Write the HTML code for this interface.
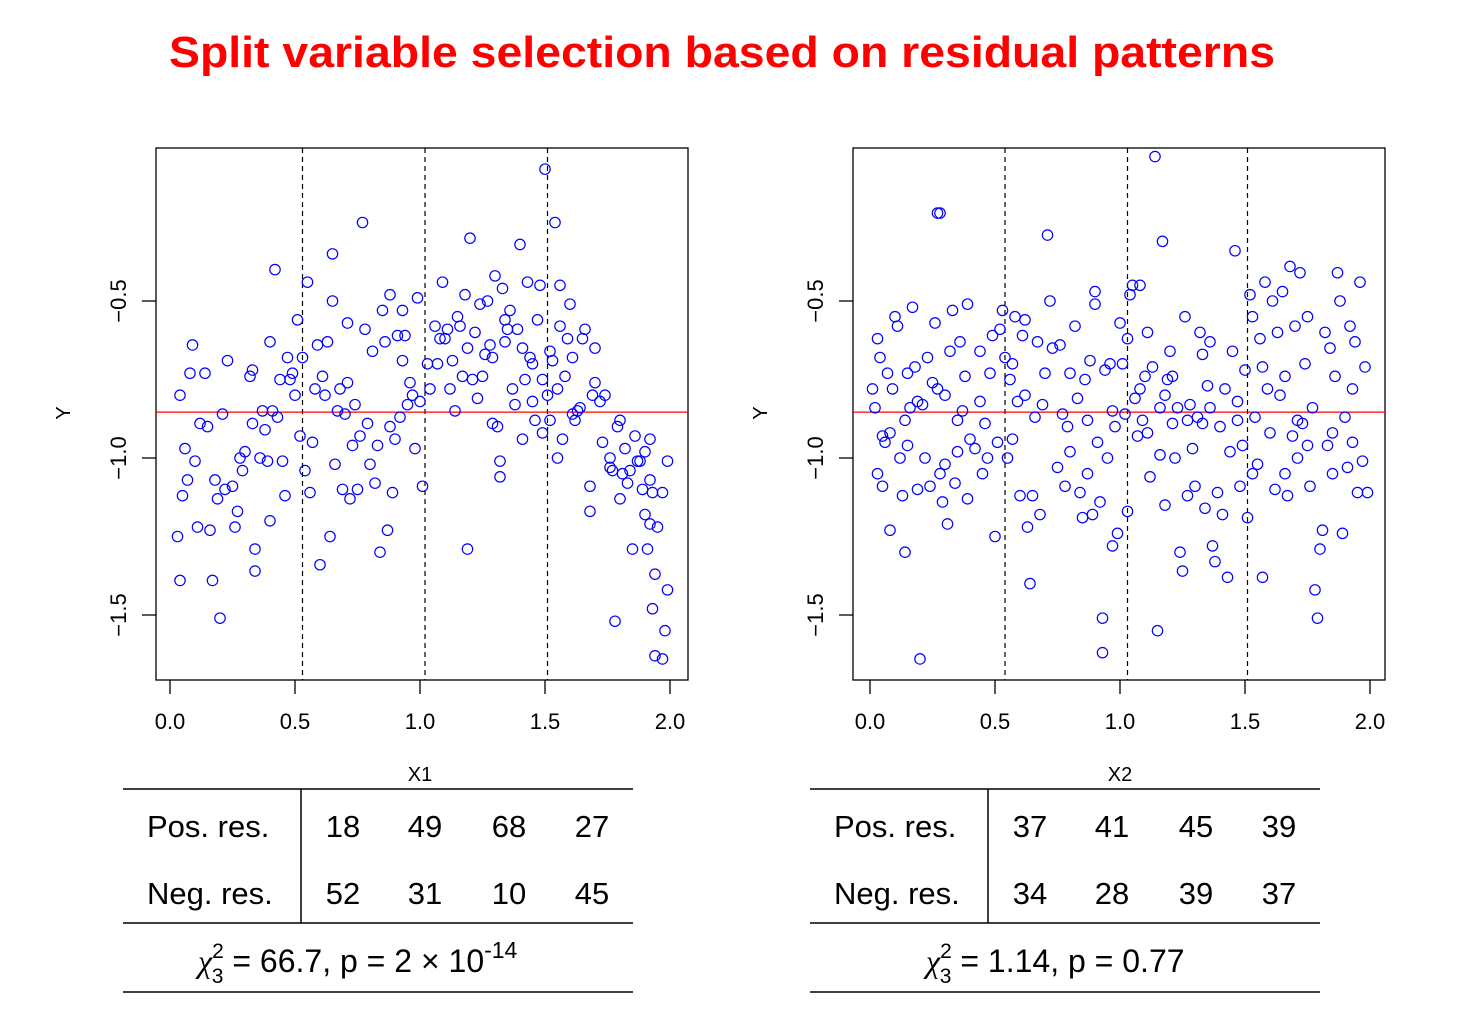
<!DOCTYPE html>
<html><head><meta charset="utf-8">
<style>
html,body{margin:0;padding:0;background:#fff;}
svg{display:block;font-family:"Liberation Sans",Arial,sans-serif;}
</style></head>
<body>
<svg id="chart" width="1474" height="1014" viewBox="0 0 1474 1014" xmlns="http://www.w3.org/2000/svg">
<text x="722" y="67" text-anchor="middle" font-size="44" font-weight="bold" fill="#ff0000" textLength="1106" lengthAdjust="spacingAndGlyphs">Split variable selection based on residual patterns</text>
<g id="p1"></g>
<g id="p2"></g>

<g font-size="31" fill="#000">
<line x1="123" y1="789" x2="633" y2="789" stroke="#000" stroke-width="1.5"/>
<line x1="123" y1="923" x2="633" y2="923" stroke="#000" stroke-width="1.5"/>
<line x1="123" y1="992" x2="633" y2="992" stroke="#000" stroke-width="1.5"/>
<line x1="301" y1="789" x2="301" y2="923" stroke="#000" stroke-width="1.5"/>
<text x="147" y="837">Pos. res.</text>
<text x="147" y="904">Neg. res.</text>
<g text-anchor="middle">
<text x="343" y="837">18</text><text x="425" y="837">49</text><text x="509" y="837">68</text><text x="592" y="837">27</text>
<text x="343" y="904">52</text><text x="425" y="904">31</text><text x="509" y="904">10</text><text x="592" y="904">45</text>
</g>
<text x="198" y="972" font-size="32"><tspan font-family="Liberation Serif,serif" font-style="italic">χ</tspan><tspan font-size="21" dy="-14">2</tspan><tspan font-size="21" dx="-12" dy="25">3</tspan><tspan dy="-11"> = 66.7, p = 2 × 10</tspan><tspan font-size="23" dy="-14">-14</tspan></text>
</g>

<g font-size="31" fill="#000">
<line x1="810" y1="789" x2="1320" y2="789" stroke="#000" stroke-width="1.5"/>
<line x1="810" y1="923" x2="1320" y2="923" stroke="#000" stroke-width="1.5"/>
<line x1="810" y1="992" x2="1320" y2="992" stroke="#000" stroke-width="1.5"/>
<line x1="988" y1="789" x2="988" y2="923" stroke="#000" stroke-width="1.5"/>
<text x="834" y="837">Pos. res.</text>
<text x="834" y="904">Neg. res.</text>
<g text-anchor="middle">
<text x="1030" y="837">37</text><text x="1112" y="837">41</text><text x="1196" y="837">45</text><text x="1279" y="837">39</text>
<text x="1030" y="904">34</text><text x="1112" y="904">28</text><text x="1196" y="904">39</text><text x="1279" y="904">37</text>
</g>
<text x="926" y="972" font-size="32"><tspan font-family="Liberation Serif,serif" font-style="italic">χ</tspan><tspan font-size="21" dy="-14">2</tspan><tspan font-size="21" dx="-12" dy="25">3</tspan><tspan dy="-11"> = 1.14, p = 0.77</tspan></text>
</g>
</svg>
<script>
const xTicks=[0,0.5,1.0,1.5,2.0];
const xTickLabels=["0.0","0.5","1.0","1.5","2.0"];
const yTicks=[-0.5,-1.0,-1.5];
const yTickLabels=["\u22120.5","\u22121.0","\u22121.5"];
const splits1=[0.53,1.02,1.51];
const splits2=[0.54,1.03,1.51];
const meanY=-0.854;
const x1Vals=[.03,.04,.04,.05,.07,.08,.09,.10,.11,.15,.14,.16,.17,.18,.20,.22,.23,.25,.26,.27,.29,.32,.33,.34,.34,.37,.39,.40,.40,.41,.42,.44,.45,.46,.47,.49,.51,.52,.54,.55,.56,.58,.59,.60,.62,.64,.65,.65,.66,.67,.69,.71,.71,.73,.74,.75,.77,.78,.80,.82,.84,.85,.87,.88,.89,.90,.91,.93,.93,.94,.95,.98,.99,1.01,1.04,1.06,1.08,1.09,1.11,1.13,1.14,1.16,1.18,1.19,1.20,1.21,1.24,1.26,1.28,1.29,1.30,1.32,1.32,1.34,1.35,1.37,1.39,1.40,1.41,1.42,1.43,1.45,1.45,1.46,1.48,1.49,1.50,1.52,1.52,1.54,1.55,1.56,1.56,1.58,1.60,1.61,1.63,1.65,1.66,1.68,1.68,1.70,1.72,1.74,1.76,1.77,1.78,1.80,1.80,1.82,1.83,1.84,1.85,1.87,1.88,1.90,1.91,1.92,1.92,1.92,1.93,1.93,1.94,1.94,1.97,1.98,1.99,1.99,
.30,.36,.48,.57,.63,.68,.76,.79,.86,.92,.97,1.03,1.07,1.12,1.15,1.17,1.22,1.25,1.27,1.31,1.33,1.36,1.38,1.44,1.47,1.51,1.53,1.57,1.59,1.62,1.64,1.69,1.73,1.79,1.86,1.89,1.95,.06,.12,.19,.21,.28,.33,.38,.43,.50,.53,.61,.70,.72,.81,.83,.88,.96,1.00,1.10,1.19,1.23,1.29,1.34,1.41,1.49,1.55,1.61,1.70,1.76,1.81,1.90,1.97];
const y1Vals=[-1.25,-1.39,-.80,-1.12,-1.07,-.73,-.64,-1.01,-1.22,-.90,-.73,-1.23,-1.39,-1.07,-1.51,-1.10,-.69,-1.09,-1.22,-1.17,-1.04,-.74,-.89,-1.29,-1.36,-.85,-1.01,-1.20,-.63,-.85,-.40,-.75,-1.01,-1.12,-.68,-.73,-.56,-.93,-1.04,-.44,-1.11,-.78,-.64,-1.34,-.80,-1.25,-.35,-.50,-1.02,-.85,-1.10,-.76,-.57,-.96,-.83,-1.10,-.25,-.59,-1.02,-1.08,-1.30,-.53,-1.23,-.48,-1.11,-.94,-.61,-.69,-.53,-.61,-.83,-.97,-.49,-1.09,-.78,-.58,-.62,-.44,-.59,-.69,-.85,-.58,-.48,-1.29,-.30,-.75,-.51,-.67,-.64,-.89,-.42,-1.06,-1.01,-.56,-.59,-.78,-.59,-.32,-.94,-.75,-.44,-.82,-.70,-.88,-.45,-.75,-.08,-.88,-.66,-.25,-1.00,-.45,-.58,-.74,-.51,-.68,-.85,-.62,-.59,-1.09,-1.17,-.65,-.82,-.80,-1.03,-1.04,-1.52,-.88,-1.13,-.97,-1.08,-1.04,-1.29,-1.01,-1.01,-1.18,-1.29,-1.07,-1.21,-.94,-1.48,-1.11,-1.37,-1.63,-1.64,-1.55,-1.42,-1.01,
-.98,-1.0,-.75,-.95,-.63,-.78,-.93,-.89,-.63,-.87,-.80,-.70,-.70,-.78,-.55,-.74,-.60,-.74,-.50,-.90,-.46,-.53,-.83,-.68,-.56,-.80,-.69,-.94,-.62,-.88,-.84,-.80,-.95,-.90,-.93,-1.10,-1.22,-.97,-.89,-1.13,-.86,-1.00,-.72,-.91,-.87,-.80,-.68,-.74,-.86,-1.13,-.66,-.96,-.90,-.76,-.82,-.62,-.65,-.81,-.68,-.63,-.65,-.92,-.78,-.86,-.76,-1.00,-1.05,-.98,-1.11];
const x2Vals=[.01,.02,.03,.03,.04,.05,.05,.06,.07,.08,.09,.10,.11,.12,.13,.14,.14,.15,.16,.17,.18,.19,.19,.20,.21,.22,.23,.24,.26,.27,.27,.28,.28,.29,.30,.30,.31,.32,.33,.34,.35,.36,.37,.38,.39,.39,.40,.42,.44,.45,.47,.48,.49,.50,.51,.52,.53,.54,.55,.56,.57,.58,.59,.60,.61,.62,.63,.64,.65,.66,.67,.69,.70,.71,.72,.73,.75,.76,.78,.79,.80,.82,.83,.84,.85,.86,.87,.88,.89,.90,.90,.91,.92,.93,.93,.94,.95,.96,.97,.98,.99,1.00,1.01,1.02,1.03,1.04,1.05,1.06,1.07,1.08,1.08,1.09,1.10,1.11,1.12,1.13,1.14,1.15,1.16,1.17,1.18,1.18,1.19,1.20,1.21,1.22,1.23,1.24,1.25,1.26,1.27,1.28,1.29,1.30,1.31,1.32,1.33,1.34,1.35,1.36,1.37,1.38,1.39,1.40,1.41,1.42,1.43,1.44,1.45,1.46,1.47,1.48,1.49,1.50,1.51,1.52,1.53,1.54,1.55,1.56,1.57,1.58,1.59,1.60,1.61,1.62,1.63,1.64,1.65,1.66,1.67,1.68,1.69,1.70,1.71,1.72,1.73,1.74,1.75,1.76,1.77,1.78,1.79,1.80,1.81,1.82,1.83,1.84,1.85,1.86,1.87,1.88,1.89,1.90,1.91,1.92,1.93,1.94,1.95,1.96,1.97,1.98,1.99,
.08,.25,.35,.46,.57,.68,.77,.87,.97,1.03,1.11,1.21,1.27,1.36,1.47,1.57,1.66,1.75,1.85,1.93,.15,.44,.62,.80,1.16,1.33,1.53,1.71];
const y2Vals=[-.78,-.84,-.62,-1.05,-.68,-.93,-1.09,-.95,-.73,-1.23,-.78,-.55,-.58,-1.00,-1.12,-1.30,-.88,-.73,-.84,-.52,-.71,-.82,-1.10,-1.64,-.83,-1.00,-.68,-1.09,-.57,-.78,-.22,-.22,-1.05,-1.14,-.80,-1.02,-1.21,-.66,-.53,-1.08,-.98,-.63,-.85,-.74,-.51,-1.13,-.94,-.97,-.66,-1.05,-1.00,-.73,-.61,-1.25,-.95,-.59,-.53,-.68,-1.00,-.75,-.70,-.55,-.82,-1.12,-.61,-.56,-1.22,-1.40,-1.12,-.87,-.63,-.83,-.73,-.29,-.50,-.65,-1.03,-.64,-1.09,-.90,-.98,-.58,-.81,-1.11,-1.19,-.75,-1.05,-.69,-1.18,-.51,-.47,-.95,-1.14,-1.51,-1.62,-.72,-1.00,-.70,-1.28,-.90,-1.24,-.57,-.70,-.86,-1.17,-.48,-.45,-.81,-.93,-.45,-.78,-.88,-.74,-.60,-1.06,-.71,-.04,-1.55,-.99,-.31,-1.15,-.80,-.75,-.66,-.89,-1.00,-.84,-1.30,-1.36,-.55,-1.12,-.83,-.97,-1.09,-.87,-.60,-.67,-1.16,-.77,-.84,-1.28,-1.33,-1.11,-.90,-1.18,-.78,-1.38,-.98,-.66,-.34,-.82,-1.09,-.96,-.72,-1.19,-.48,-.55,-.87,-1.02,-.62,-1.38,-.44,-.78,-.92,-.50,-1.10,-.60,-.80,-.47,-1.05,-1.12,-.39,-.93,-.58,-1.00,-.41,-.89,-.70,-.55,-1.09,-.84,-1.42,-1.51,-1.29,-1.23,-.60,-.96,-.65,-1.05,-.74,-.41,-.50,-1.24,-.87,-1.03,-.58,-.78,-.63,-1.11,-.44,-1.01,-.71,-1.11,
-.92,-.76,-.88,-.89,-.94,-1.18,-.86,-.88,-.85,-.62,-.92,-.74,-.88,-.63,-.88,-.71,-.74,-.96,-.92,-.95,-.96,-.82,-.80,-.73,-.84,-.89,-1.05,-.88];

const NS="http://www.w3.org/2000/svg";
function mk(parent,tag,attrs){const e=document.createElementNS(NS,tag);for(const k in attrs)e.setAttribute(k,attrs[k]);parent.appendChild(e);return e;}

function drawPanel(gid,left,x0,xLabel,xs,ys,splits){
  const g=document.getElementById(gid);
  const right=left+532, top=148, bottom=680;
  const xs_=250;
  const sx=v=>x0+v*xs_;
  const sy=v=>301-(v+0.5)*314;
  const box=mk(g,'rect',{x:left,y:top,width:532,height:532,fill:'none',stroke:'#000','stroke-width':1.3});
  
  
  xTicks.forEach((t,i)=>{
    const l=mk(g,'line',{x1:sx(t),y1:bottom,x2:sx(t),y2:bottom+14,stroke:'#000','stroke-width':1.3});
    
    
    const tx=mk(g,'text',{x:sx(t),y:729,'text-anchor':'middle','font-size':22});
    
    
    tx.textContent=xTickLabels[i];
  });
  yTicks.forEach((t,i)=>{
    const l=mk(g,'line',{x1:left-14,y1:sy(t),x2:left,y2:sy(t),stroke:'#000','stroke-width':1.3});
    
    
    const tx=mk(g,'text',{x:0,y:0,'text-anchor':'middle','font-size':22,transform:`translate(${left-30},${sy(t)}) rotate(-90)`});
    
    
    tx.textContent=yTickLabels[i];
  });
  const yl=mk(g,'text',{x:0,y:0,'text-anchor':'middle','font-size':20,transform:`translate(${left-86},${413}) rotate(-90)`});
  
  
  yl.textContent='Y';
  const xl=mk(g,'text',{x:sx(1),y:781,'text-anchor':'middle','font-size':20});
  
  
  xl.textContent=xLabel;
  splits.forEach(s=>{
    const d=mk(g,'line',{x1:sx(s),y1:top,x2:sx(s),y2:bottom,stroke:'#000','stroke-width':1.2,'stroke-dasharray':'5,4'});
    
    
  });
  const m=mk(g,'line',{x1:left,y1:sy(meanY),x2:right,y2:sy(meanY),stroke:'#ff0000','stroke-width':1.3});
  
  
  xs.forEach((v,i)=>{
    const c=mk(g,'circle',{cx:sx(v),cy:sy(ys[i]),r:5.2,fill:'none',stroke:'#0000ff','stroke-width':1.2});
    
    
  });
}
drawPanel('p1',156,170,'X1',x1Vals,y1Vals,splits1);
drawPanel('p2',853,870,'X2',x2Vals,y2Vals,splits2);
</script>
</body></html>
